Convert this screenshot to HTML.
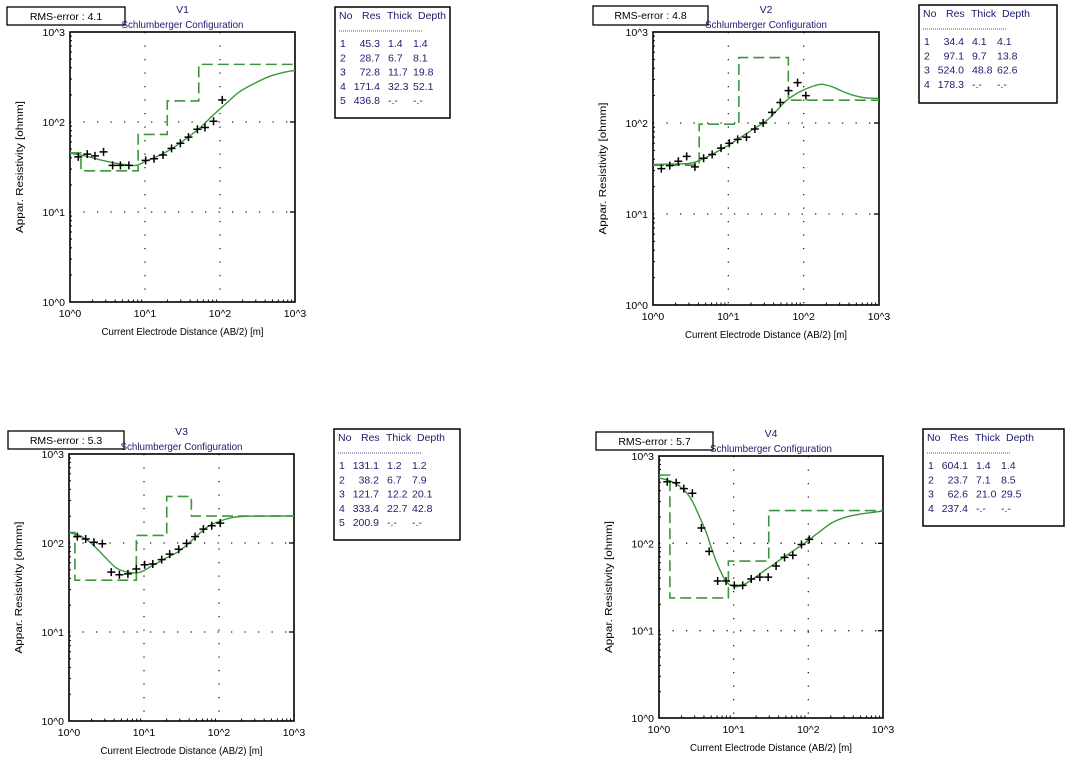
<!DOCTYPE html>
<html><head><meta charset="utf-8"><style>
html,body{margin:0;padding:0;background:#fff;}
svg{display:block;font-family:"Liberation Sans",Arial,sans-serif;}
svg text{font-family:"Liberation Sans",Arial,sans-serif;}
</style></head><body>
<svg id="chart" width="1070" height="765" viewBox="0 0 1070 765"></svg>
<script>
// ---- data ----
const v1Res=[45.3,28.7,72.8,171.4,436.8];
const v1Thick=[1.4,6.7,11.7,32.3];
const v1Depth=[1.4,8.1,19.8,52.1];
const v1ObsX=[1.29,1.7,2.15,2.8,3.7,4.7,6.1,10.2,13.2,17.4,22.6,29.6,38,50,63,82,107];
const v1ObsY=[41,44,42,46.5,33,33,33,37.5,39,43,51,58,68,83,87,102,176];
const v1FitX=[1,1.6,2.5,4,5.5,7.7,10.5,16,24,36,54,80,120,180,280,450,700,1000];
const v1FitY=[45,42,38,35,33.5,33,37,43,52,66,86,118,160,215,265,320,355,375];
const v1Rms="4.1";

const v2Res=[34.4,97.1,524.0,178.3];
const v2Thick=[4.1,9.7,48.8];
const v2Depth=[4.1,13.8,62.6];
const v2ObsX=[1.29,1.67,2.17,2.8,3.6,4.7,6.1,8,10.3,13.3,17.4,22.5,29,38,49,63,83,107];
const v2ObsY=[31.5,34,38,43,33,41,45,53,60,66,70,86,100,131,168,227,278,200];
const v2FitX=[1,2,3.1,4.2,6,10,18,32,45,59,80,100,135,175,240,340,470,630,1000];
const v2FitY=[35,35.5,36,39,45,57,78,106,140,177,210,231,255,266,250,220,200,190,186];
const v2Rms="4.8";

const v3Res=[131.1,38.2,121.7,333.4,200.9];
const v3Thick=[1.2,6.7,12.2,22.7];
const v3Depth=[1.2,7.9,20.1,42.8];
const v3ObsX=[1.29,1.67,2.15,2.78,3.66,4.7,6.1,7.9,10.2,13.1,17.2,22,29,37,48,62,80,104];
const v3ObsY=[118,111,102,98,47,44,45,51,57,58,65,75,85,99,118,143,156,167];
const v3FitX=[1,1.39,1.9,2.5,3.2,4.2,5.5,7.9,10,13,20,30,45,68,100,154,230,400,1000];
const v3FitY=[131,121,102,82,66,53,48,46,49,56,68,82,110,149,175,194,200,201,201];
const v3Rms="5.3";

const v4Res=[604.1,23.7,62.6,237.4];
const v4Thick=[1.4,7.1,21.0];
const v4Depth=[1.4,8.5,29.5];
const v4ObsX=[1.29,1.7,2.15,2.8,3.7,4.7,6.1,7.9,10.2,13.2,17.2,22.4,29,37,48,62,81,103];
const v4ObsY=[508,494,423,375,150,81,37,37,33,33,39,41,41,55,69,73,97,111];
const v4FitX=[1,1.4,1.9,2.4,2.87,3.5,4.3,5,5.9,7,8,10.3,13,18,27,41,60,93,140,210,320,480,700,1000];
const v4FitY=[560,520,450,370,290,200,133,90,61,44,36,32,33,39,50,64,80,103,135,173,200,215,225,235];
const v4Rms="5.7";

const xTickLabels=["10^0","10^1","10^2","10^3"];
const yTickLabels=["10^0","10^1","10^2","10^3"];

// ---- layout (geometry only) ----
const panels=[
 {id:"v1",title:"V1",L:70,R:295,T:32,B:302,rms:[7,7,118,18],tbl:[335,7,115,111],res:v1Res,thick:v1Thick,depth:v1Depth,ox:v1ObsX,oy:v1ObsY,fx:v1FitX,fy:v1FitY,r:v1Rms},
 {id:"v2",title:"V2",L:653,R:879,T:32,B:305,rms:[593,6,115,19],tbl:[919,5,138,98],res:v2Res,thick:v2Thick,depth:v2Depth,ox:v2ObsX,oy:v2ObsY,fx:v2FitX,fy:v2FitY,r:v2Rms},
 {id:"v3",title:"V3",L:69,R:294,T:454,B:721,rms:[8,431,116,18],tbl:[334,429,126,111],res:v3Res,thick:v3Thick,depth:v3Depth,ox:v3ObsX,oy:v3ObsY,fx:v3FitX,fy:v3FitY,r:v3Rms},
 {id:"v4",title:"V4",L:659,R:883,T:456,B:718,rms:[596,432,117,18],tbl:[923,429,141,97],res:v4Res,thick:v4Thick,depth:v4Depth,ox:v4ObsX,oy:v4ObsY,fx:v4FitX,fy:v4FitY,r:v4Rms}
];

const svg=document.getElementById('chart');
const NS="http://www.w3.org/2000/svg";
function mk(tag,attrs,parent,text){const e=document.createElementNS(NS,tag);for(const k in attrs)e.setAttribute(k,attrs[k]);if(text!==undefined)e.textContent=text;(parent||svg).appendChild(e);return e;}
const GREEN="#3c963c", NAVY="#1c1c6e", FF='Liberation Sans, Arial, sans-serif';

panels.forEach(p=>{
  const g=mk('g',{});
  
  
  const xs=v=>p.L+(Math.log10(v))/3*(p.R-p.L);
  const ys=v=>p.B-(Math.log10(v))/3*(p.B-p.T);
  const rb=mk('rect',{x:p.rms[0],y:p.rms[1],width:p.rms[2],height:p.rms[3],fill:'#fff',stroke:'#000','stroke-width':1.3},g);
  
  
  const rt=mk('text',{x:p.rms[0]+p.rms[2]/2,y:p.rms[1]+13,'text-anchor':'middle','font-size':10.5},g,'RMS-error :  '+p.r);
  
  
  const mid=(p.L+p.R)/2;
  const t1=mk('text',{x:mid,y:p.T-19,'text-anchor':'middle','font-size':10.5,fill:NAVY},g,p.title);
  
  
  const t2=mk('text',{x:mid,y:p.T-4,'text-anchor':'middle','font-size':10.5,fill:NAVY,textLength:122,lengthAdjust:'spacingAndGlyphs'},g,'Schlumberger Configuration');
  
  
  for(let d=1;d<=2;d++){
    const xx=xs(Math.pow(10,d)), yy=ys(Math.pow(10,d));
    const gv=mk('line',{x1:xx,y1:p.T,x2:xx,y2:p.B,stroke:'#222','stroke-width':1.3,'stroke-dasharray':'1.3,12.2'},g);
    
    
    const gh=mk('line',{x1:p.L,y1:yy,x2:p.R,y2:yy,stroke:'#222','stroke-width':1.3,'stroke-dasharray':'1.3,12.2'},g);
    
    
    mk('line',{x1:p.R-5,y1:yy,x2:p.R,y2:yy,stroke:'#000','stroke-width':1.3},g);
  }
  for(let d=0;d<3;d++)for(let m=2;m<=9;m++){
    const xx=xs(m*Math.pow(10,d)), yy=ys(m*Math.pow(10,d));
    mk('line',{x1:xx,y1:p.B,x2:xx,y2:p.B-2.5,stroke:'#000','stroke-width':1},g);
    mk('line',{x1:p.L,y1:yy,x2:p.L+2,y2:yy,stroke:'#000','stroke-width':1},g);
  }
  const fr=mk('rect',{x:p.L,y:p.T,width:p.R-p.L,height:p.B-p.T,fill:'none',stroke:'#000','stroke-width':1.6},g);
  
  
  xTickLabels.forEach((lb,i)=>{
    const t=mk('text',{x:xs(Math.pow(10,i)),y:p.B+15,'text-anchor':'middle','font-size':10.5},g,lb);
    
    
  });
  yTickLabels.forEach((lb,i)=>{
    const t=mk('text',{x:p.L-5,y:ys(Math.pow(10,i))+4,'text-anchor':'end','font-size':10.5},g,lb);
    
    
  });
  const xt=mk('text',{x:mid,y:p.B+33,'text-anchor':'middle','font-size':10,textLength:162,lengthAdjust:'spacingAndGlyphs'},g,'Current Electrode Distance (AB/2) [m]');
  
  
  const ymid=(p.T+p.B)/2, yx=p.L-47;
  const yt=mk('text',{x:yx,y:ymid,'text-anchor':'middle','font-size':10,transform:`rotate(-90 ${yx} ${ymid})`,textLength:132,lengthAdjust:'spacingAndGlyphs'},g,'Appar. Resistivity [ohmm]');
  
  
  let d='M'+xs(1)+','+ys(p.res[0]);
  for(let i=0;i<p.depth.length;i++){
    d+=' L'+xs(p.depth[i])+','+ys(p.res[i])+' L'+xs(p.depth[i])+','+ys(p.res[i+1]);
  }
  d+=' L'+xs(1000)+','+ys(p.res[p.res.length-1]);
  const st=mk('path',{d:d,fill:'none',stroke:GREEN,'stroke-width':1.6,'stroke-dasharray':'11,5'},g);
  
  
  const pts=p.fx.map((x,i)=>[xs(x),ys(p.fy[i])]);
  let c='M'+pts[0][0]+','+pts[0][1];
  for(let i=0;i<pts.length-1;i++){
    const p0=pts[Math.max(i-1,0)],p1=pts[i],p2=pts[i+1],p3=pts[Math.min(i+2,pts.length-1)];
    c+=` C${p1[0]+(p2[0]-p0[0])/6},${p1[1]+(p2[1]-p0[1])/6} ${p2[0]-(p3[0]-p1[0])/6},${p2[1]-(p3[1]-p1[1])/6} ${p2[0]},${p2[1]}`;
  }
  const fc=mk('path',{d:c,fill:'none',stroke:GREEN,'stroke-width':1.4},g);
  
  
  p.ox.forEach((x,i)=>{
    const X=xs(x),Y=ys(p.oy[i]);
    const m=mk('path',{d:`M${X-4},${Y} H${X+4} M${X},${Y-4} V${Y+4}`,stroke:'#000','stroke-width':1.5},g);
    
    
  });
  const [tx,ty,tw,th]=p.tbl;
  const tb=mk('rect',{x:tx,y:ty,width:tw,height:th,fill:'#fff',stroke:'#000','stroke-width':1.5},g);
  
  
  const hd=mk('g',{},g);
  
  
  [['No',4],['Res',27],['Thick',52],['Depth',83]].forEach(h=>{
    mk('text',{x:tx+h[1],y:ty+12,'font-size':10.5,fill:NAVY,'font-family':FF},hd,h[0]);
  });
  mk('line',{x1:tx+4,y1:ty+24,x2:tx+88,y2:ty+24,stroke:NAVY,'stroke-width':0.8,'stroke-dasharray':'1,1'},g);
  p.res.forEach((r,i)=>{
    const y=ty+40+i*14.3;
    const row=mk('g',{},g);
    
    
    mk('text',{x:tx+5,y:y,'font-size':10.5,fill:NAVY,'font-family':FF},row,String(i+1));
    mk('text',{x:tx+45,y:y,'font-size':10.5,fill:NAVY,'text-anchor':'end','font-family':FF},row,r.toFixed(1));
    mk('text',{x:tx+53,y:y,'font-size':10.5,fill:NAVY,'font-family':FF},row,i<p.thick.length?p.thick[i].toFixed(1):'-.-');
    mk('text',{x:tx+78,y:y,'font-size':10.5,fill:NAVY,'font-family':FF},row,i<p.depth.length?p.depth[i].toFixed(1):'-.-');
  });
});
</script>
</body></html>
